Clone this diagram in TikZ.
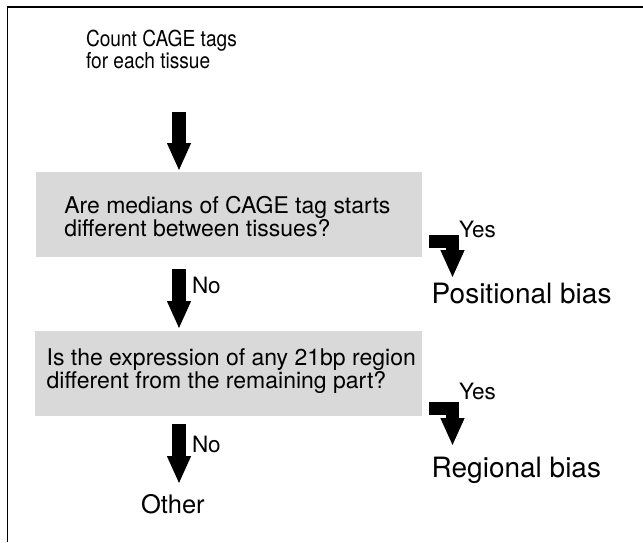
\documentclass[tikz,border=0pt]{standalone}
\usepackage{fontspec}
\usepackage{graphicx}
\setmainfont{TeX Gyre Heros}
\usetikzlibrary{arrows.meta}
\definecolor{boxgray}{HTML}{D9D9D9}
\begin{document}
\begin{tikzpicture}[x=1pt,y=-1pt,
  every node/.style={inner sep=0pt, outer sep=0pt},
  qbox/.style={fill=boxgray, draw=none, minimum width=386pt, minimum height=85pt},
  bigarrow/.style={line width=14pt, -{Triangle[width=22pt,length=28pt]}},
  bentarrow/.style={line width=13pt, line join=miter, -{Triangle[width=22pt,length=28pt]}},
  starttext/.style={font=\fontsize{22}{19}\selectfont, anchor=base west},
  qtext/.style={font=\fontsize{23}{22.7}\selectfont, align=left, anchor=base west},
  lab/.style={font=\fontsize{22.5}{22.5}\selectfont, anchor=base west},
  res/.style={font=\fontsize{28}{28}\selectfont, anchor=base west},
  frame/.style={line width=1.3pt}]
\useasboundingbox (0,0) rectangle (643,542);
% frame
\coordinate (fl) at (7.5,542);
\coordinate (fc) at (7.5,7);
\coordinate (fr) at (643,7);
\draw[frame] (fl) -- (fc) -- (fr);
% start text (anchor = baseline of last line)
\node[starttext] (count) at (86,68.5)
  {\scalebox{0.87}[1]{\begin{tabular}[b]{@{}l@{}}Count CAGE tags\\for each tissue\end{tabular}}};
% boxes
\node[qbox] (box1) at (229,214.5) {};
\node[qtext] (q1) at (64.3,236) {Are medians of CAGE tag starts\\different between tissues?};
\node[qbox, minimum width=387pt] (box2) at (228.5,373.5) {};
\node[qtext] (q2) at (46.7,388.5) {Is the expression of any 21bp region\\different from the remaining part?};
% results
\node[res] (pos) at (431.7,303.3) {Positional bias};
\node[res] (reg) at (431.7,477.7) {Regional bias};
\node[res, font=\fontsize{25.5}{25.5}\selectfont] (other) at (141,513) {Other};
% labels
\node[lab] (no1) at (192,293) {No};
\node[lab] (no2) at (192,452) {No};
\node[lab] (yes1) at (459,237) {Yes};
\node[lab] (yes2) at (459,399) {Yes};
% arrow anchor coordinates
\coordinate (a1s) at (179,112);
\coordinate (a1e) at (179,171);
\coordinate (a2s) at (179,269);
\coordinate (a2e) at (179,329);
\coordinate (a3s) at (179,424);
\coordinate (a3e) at (179,484);
\coordinate (y1s) at (429,241.5);
\coordinate (y1c) at (452.5,241.5);
\coordinate (y1e) at (452.5,278);
\coordinate (y2s) at (429,408.5);
\coordinate (y2c) at (452.5,408.5);
\coordinate (y2e) at (452.5,446);
% arrows
\draw[bigarrow] (a1s) -- (a1e);
\draw[bigarrow] (a2s) -- (a2e);
\draw[bigarrow] (a3s) -- (a3e);
\draw[bentarrow] (y1s) -- (y1c) -- (y1e);
\draw[bentarrow] (y2s) -- (y2c) -- (y2e);
\end{tikzpicture}
\end{document}
